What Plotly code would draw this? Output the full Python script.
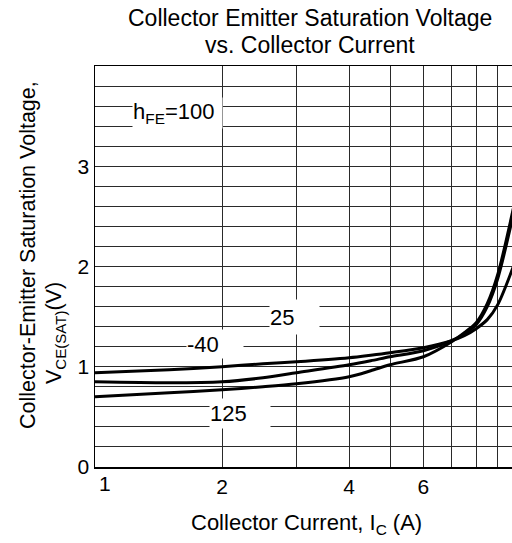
import plotly.graph_objects as go
import math

# ---- data ----
current = [1, 1.5, 2, 2.5, 3, 4, 4.5, 5, 6, 7, 7.5, 8, 8.5, 9, 9.8]
v_m40 = [0.94, 0.97, 1.00, 1.03, 1.05, 1.09, 1.115, 1.14, 1.19, 1.26, 1.31, 1.38, 1.47, 1.62, 2.00]
v_25 = [0.85, 0.84, 0.85, 0.89, 0.94, 1.02, 1.06, 1.10, 1.16, 1.26, 1.33, 1.42, 1.60, 1.88, 2.52]
v_125 = [0.70, 0.74, 0.77, 0.80, 0.83, 0.90, 0.96, 1.02, 1.10, 1.25, 1.34, 1.44, 1.63, 1.92, 2.58]
series_names = ["-40", "25", "125"]
x_grid = [1, 2, 3, 4, 5, 6, 7, 8, 9]
x_tick_text = ["", "2", "", "4", "", "6", "", "", ""]
y_grid = [round(0.2 * i, 1) for i in range(21)]
y_tick_text = [str(int(v)) if abs(v - round(v)) < 1e-9 and v < 4 else "" for v in y_grid]

FONT = "Liberation Sans, Arial, sans-serif"
L, T, W, H = 95, 66, 512, 543
B = 467
PW, PH = W - L, B - T
XMAX_LOG = 0.988


def px_x(p):
    return 10 ** ((p - L) / PW * XMAX_LOG)


def px_y(p):
    return (B - p) / 100.0


fig = go.Figure()
for name, vals in zip(series_names, [v_m40, v_25, v_125]):
    fig.add_trace(go.Scatter(x=current, y=vals, mode="lines", name=name,
                             line=dict(color="black", width=3, shape="spline", smoothing=0.8),
                             showlegend=False, hoverinfo="skip"))

grid_col = "#2a2a2a"
tickfont = dict(family=FONT, size=21, color="black")
fig.update_xaxes(type="log", range=[0, XMAX_LOG], tickvals=x_grid, ticktext=x_tick_text,
                 showgrid=True, gridcolor=grid_col, gridwidth=1, showline=True, linecolor="black",
                 linewidth=1.5, mirror=True, ticks="", tickfont=tickfont, zeroline=False)
fig.update_yaxes(range=[0, 4.0], tickvals=y_grid, ticktext=y_tick_text, showgrid=True,
                 gridcolor=grid_col, gridwidth=1, showline=True, linecolor="black", linewidth=1.5,
                 ticks="", tickfont=tickfont, zeroline=False)

ann = []
font = dict(family=FONT, size=22, color="black")
# "1" tick label shifted right
ann.append(dict(x=(105 - L) / PW, y=(B - 484) / PH, xref="paper", yref="paper", text="1",
                showarrow=False, font=tickfont, xanchor="center", yanchor="middle"))
# curve labels with white boxes
labels = [
    ("h<sub>FE</sub>=100", 177.5, 114, 89, 30),
    ("-40", 215, 344, 56, 28),
    ("25", 294.5, 317, 49, 34),
    ("125", 240, 413.5, 60, 29),
]
for txt, cx, cy, w, h in labels:
    ann.append(dict(x=math.log10(px_x(cx)), y=px_y(cy), xref="x", yref="y", text=txt,
                    showarrow=False, font=font, bgcolor="white", width=w, height=h,
                    align="left", valign="middle", borderpad=0, xanchor="center", yanchor="middle"))
# titles
ann.append(dict(x=(310 - L) / PW, y=(B - 18) / PH, xref="paper", yref="paper",
                text="Collector Emitter Saturation Voltage", showarrow=False,
                font=dict(family=FONT, size=23, color="black"), xanchor="center", yanchor="middle"))
ann.append(dict(x=(310 - L) / PW, y=(B - 45) / PH, xref="paper", yref="paper",
                text="vs. Collector Current", showarrow=False,
                font=dict(family=FONT, size=23, color="black"), xanchor="center", yanchor="middle"))
ann.append(dict(x=(306 - L) / PW, y=(B - 524) / PH, xref="paper", yref="paper",
                text="Collector Current, I<sub>C</sub> (A)", showarrow=False, font=font,
                xanchor="center", yanchor="middle"))
ann.append(dict(x=(28 - L) / PW, y=(B - 255) / PH, xref="paper", yref="paper",
                text="Collector-Emitter Saturation Voltage,", showarrow=False,
                font=dict(family=FONT, size=21.5, color="black"),
                textangle=-90, xanchor="center", yanchor="middle"))
ann.append(dict(x=(55 - L) / PW, y=(B - 333) / PH, xref="paper", yref="paper",
                text="V<sub>CE(SAT)</sub>(V)", showarrow=False,
                font=dict(family=FONT, size=21.5, color="black"),
                textangle=-90, xanchor="center", yanchor="middle"))

fig.add_shape(type="line", xref="x", yref="y", x0=math.log10(px_x(296)), y0=px_y(330),
              x1=math.log10(px_x(283)), y1=px_y(373),
              line=dict(color="black", width=1), layer="above")

fig.update_layout(width=W, height=H, margin=dict(l=L, r=0, t=T, b=H - B),
                  paper_bgcolor="white", plot_bgcolor="white", annotations=ann,
                  font=dict(family=FONT, color="black"), hovermode=False)
fig.write_html("out.html", config={"displayModeBar": False, "staticPlot": True},
               post_script="document.body.style.margin='0';document.body.style.padding='0';")
